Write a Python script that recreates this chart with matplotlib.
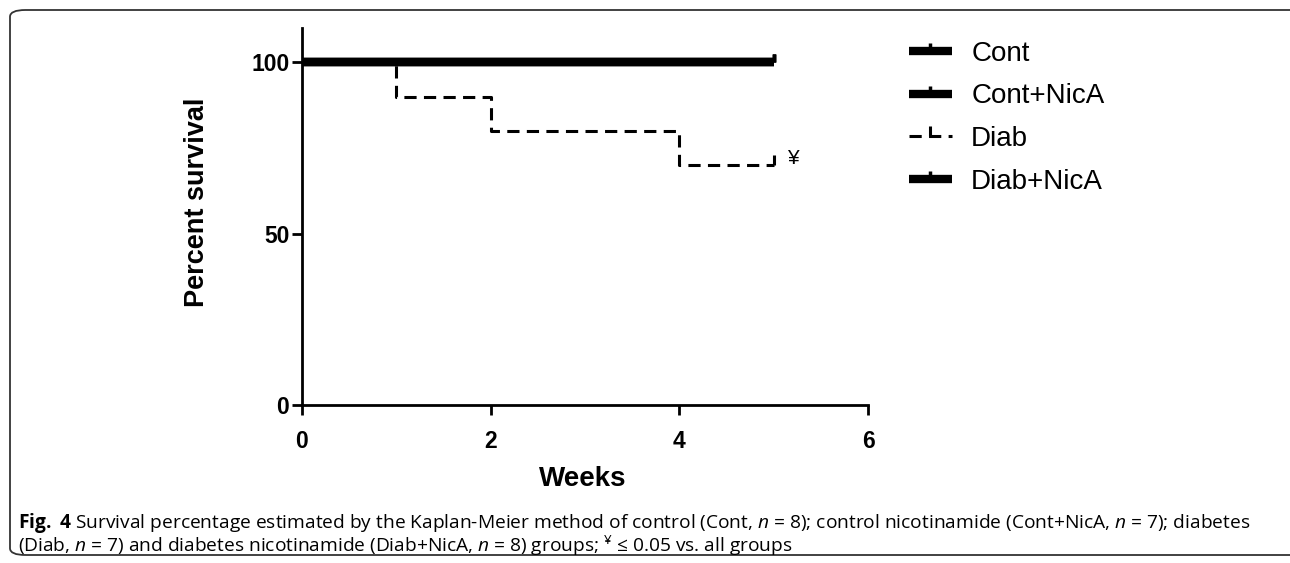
import matplotlib.pyplot as plt
from matplotlib.patches import FancyBboxPatch

plt.rcParams['font.family'] = ['Liberation Sans', 'DejaVu Sans']
plt.rcParams['mathtext.fontset'] = 'custom'
plt.rcParams['mathtext.rm'] = 'Open Sans'
plt.rcParams['mathtext.it'] = 'Open Sans:italic'
plt.rcParams['mathtext.bf'] = 'Open Sans:bold'

# Kaplan-Meier steps (weeks, percent survival)
cont_weeks = [0, 5]
cont_surv = [100, 100]
contnica_weeks = [0, 5]
contnica_surv = [100, 100]
diab_weeks = [0, 1, 2, 4, 5]
diab_surv = [100, 90, 80, 70, 70]
diabnica_weeks = [0, 5]
diabnica_surv = [100, 100]

x_ticks = [0, 2, 4, 6]
y_ticks = [0, 50, 100]

fig = plt.figure(figsize=(12.9, 5.63), dpi=100)
ax = fig.add_axes([0.234, 0.2806, 0.673 - 0.234, 0.950 - 0.2806])

solid = dict(color="black", linewidth=6, solid_capstyle="butt",
             marker=2, markersize=6, markeredgewidth=2.5)
ax.step(cont_weeks, cont_surv, where="post", label="Cont", markevery=[-1], **solid)
ax.step(contnica_weeks, contnica_surv, where="post", label="Cont+NicA", markevery=[-1], **solid)
ax.step(diab_weeks, diab_surv, where="post", label="Diab", color="black",
        linewidth=2.2, linestyle=(0, (4.0, 2.4)), marker=2, markersize=7,
        markeredgewidth=2.2, markevery=[-1])
ax.step(diabnica_weeks, diabnica_surv, where="post", label="Diab+NicA", markevery=[-1], **solid)

ax.text(5.14, 72, "¥", fontsize=15, va="center", ha="left")

ax.set_xlim(0, 6)
ax.set_ylim(0, 110)
ax.set_xticks(x_ticks)
ax.set_yticks(y_ticks)
ax.spines["top"].set_visible(False)
ax.spines["right"].set_visible(False)
for s in ["left", "bottom"]:
    ax.spines[s].set_linewidth(2)
ax.tick_params(width=2, length=7, labelsize=16.5)
ax.tick_params(axis="x", pad=11)
ax.tick_params(axis="y", pad=2)
for lab in ax.get_xticklabels() + ax.get_yticklabels():
    lab.set_fontweight("bold")

ax.set_xlabel("Weeks", fontsize=20, fontweight="bold")
ax.set_ylabel("Percent survival", fontsize=19.5, fontweight="bold")
ax.xaxis.set_label_coords(0.496, -0.163)
ax.yaxis.set_label_coords(-0.162, 0.538)

fig.legend(loc="upper left", bbox_to_anchor=(0.685, 0.972), frameon=False,
           fontsize=20, handlelength=1.55, handletextpad=0.7, labelspacing=0.6)

# rounded frame around figure and caption
frame = FancyBboxPatch((10 / 1290, 8 / 563), 1.2, 545 / 563,
                       boxstyle="round,pad=0,rounding_size=0.012",
                       transform=fig.transFigure, fill=False,
                       edgecolor="#333333", linewidth=1.3)
fig.add_artist(frame)

line1 = (r"$\bf{Fig.\ 4}$ Survival percentage estimated by the Kaplan-Meier method of control "
         r"(Cont, $\it{n}$ = 8); control nicotinamide (Cont+NicA, $\it{n}$ = 7); diabetes")
line2 = (r"(Diab, $\it{n}$ = 7) and diabetes nicotinamide (Diab+NicA, $\it{n}$ = 8) groups; "
         r"$^{¥}$ ≤ 0.05 vs. all groups")
fig.text(18 / 1290, 1 - 523 / 563, line1, fontsize=13.8, family="Open Sans", va="center")
fig.text(18 / 1290, 1 - 546 / 563, line2, fontsize=13.8, family="Open Sans", va="center")

fig.savefig("out.png", dpi=100)
